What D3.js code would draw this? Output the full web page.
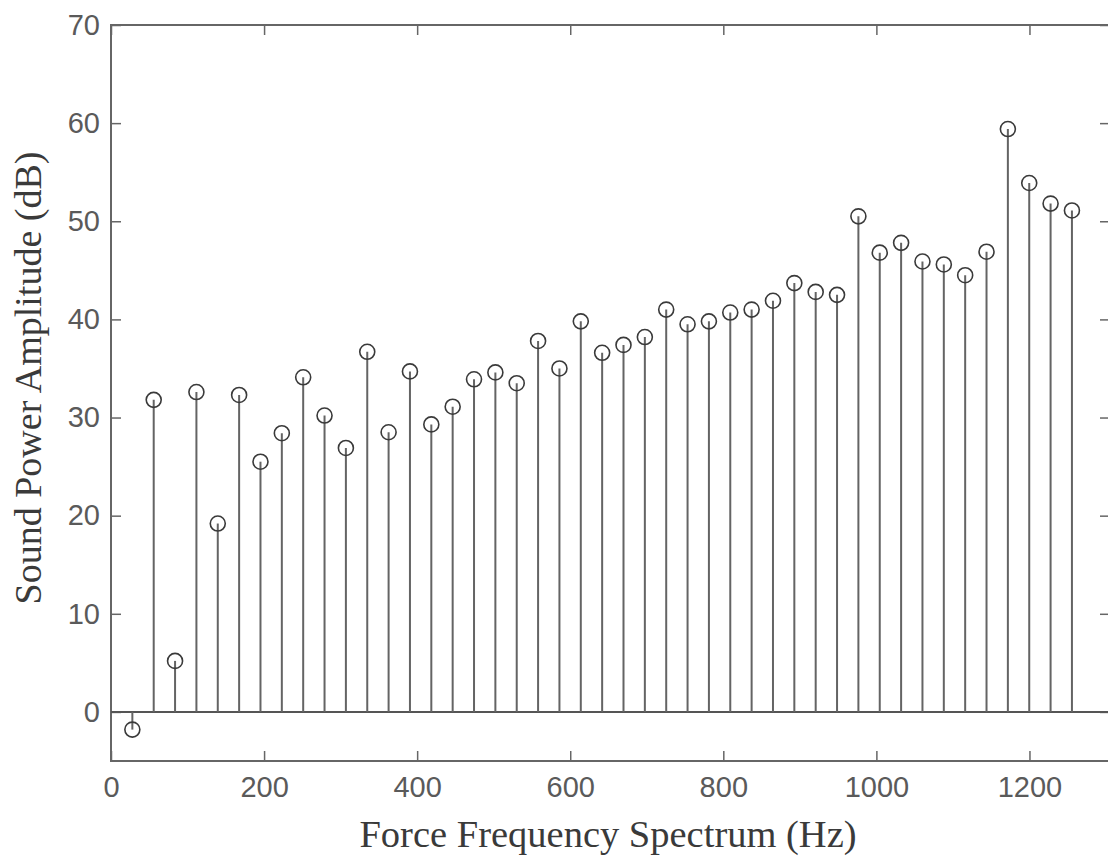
<!DOCTYPE html>
<html>
<head>
<meta charset="utf-8">
<script src="https://cdn.jsdelivr.net/npm/d3@7"></script>
<style>
  body { margin: 0; background: #fff; }
  svg { display: block; }
</style>
</head>
<body>
<svg id="chart"></svg>
<script>
// stem positions (Hz) and amplitudes (dB)
const freqs = [27.9, 55.8, 83.7, 111.6, 139.5, 167.4, 195.3, 223.2, 251.1, 279, 306.9, 334.8, 362.7, 390.6, 418.5,
               446.4, 474.3, 502.2, 530.1, 558, 585.9, 613.8, 641.7, 669.6, 697.5, 725.4, 753.3, 781.2, 809.1, 837,
               864.9, 892.8, 920.7, 948.6, 976.5, 1004.4, 1032.3, 1060.2, 1088.1, 1116, 1143.9, 1171.8, 1199.7, 1227.6, 1255.5];
const amps = [-1.8, 31.8, 5.2, 32.6, 19.2, 32.3, 25.5, 28.4, 34.1, 30.2, 26.9, 36.7, 28.5, 34.7, 29.3,
              31.1, 33.9, 34.6, 33.5, 37.8, 35.0, 39.8, 36.6, 37.4, 38.2, 41.0, 39.5, 39.8, 40.7, 41.0,
              41.9, 43.7, 42.8, 42.5, 50.5, 46.8, 47.8, 45.9, 45.6, 44.5, 46.9, 59.4, 53.9, 51.8, 51.1];
const xTicks = [0, 200, 400, 600, 800, 1000, 1200];
const yTicks = [0, 10, 20, 30, 40, 50, 60, 70];

const data = freqs.map((f, i) => ({ f: f, v: amps[i] }));

const W = 1108, H = 859;
// frame runs a little past the window on the right, like the cropped original
const plotL = 111, plotR = 1106, frameR = 1110, plotT = 25, plotB = 761;

const svg = d3.select("#chart").attr("width", W).attr("height", H);

const x = d3.scaleLinear().domain([0, 1300]).range([plotL, plotR]);
const y = d3.scaleLinear().domain([-5, 70]).range([plotB, plotT]);

const axisColor = "#666";
const labelFont = "'Liberation Sans', Arial, sans-serif";
const titleFont = "'Liberation Serif', 'Times New Roman', serif";

// box
svg.append("rect")
  .attr("x", plotL).attr("y", plotT)
  .attr("width", frameR - plotL).attr("height", plotB - plotT)
  .attr("fill", "none").attr("stroke", axisColor).attr("stroke-width", 2);

// ticks pointing in, on all four sides
const gBottom = svg.append("g").attr("transform", `translate(0,${plotB})`)
  .call(d3.axisBottom(x).tickValues(xTicks).tickFormat(d3.format("d"))
    .tickSizeInner(-10).tickSizeOuter(0).tickPadding(15));
const gLeft = svg.append("g").attr("transform", `translate(${plotL},0)`)
  .call(d3.axisLeft(y).tickValues(yTicks).tickFormat(d3.format("d"))
    .tickSizeInner(-10).tickSizeOuter(0).tickPadding(11));
const gTop = svg.append("g").attr("transform", `translate(0,${plotT})`)
  .call(d3.axisTop(x).tickValues(xTicks).tickSizeInner(-10).tickSizeOuter(0).tickFormat(""));
const gRight = svg.append("g").attr("transform", `translate(${frameR},0)`)
  .call(d3.axisRight(y).tickValues(yTicks).tickSizeInner(-10).tickSizeOuter(0).tickFormat(""));

[gBottom, gLeft, gTop, gRight].forEach(g => {
  g.select(".domain").remove();
  g.selectAll(".tick line").attr("stroke", axisColor).attr("stroke-width", 1.5);
  g.selectAll(".tick text")
    .attr("fill", "#5a5a5a")
    .style("font-family", labelFont)
    .style("font-size", "29px");
});

// zero line
svg.append("line")
  .attr("x1", plotL).attr("x2", frameR)
  .attr("y1", y(0)).attr("y2", y(0))
  .attr("stroke", "#555").attr("stroke-width", 2);

// stems
svg.append("g").selectAll("line")
  .data(data).join("line")
  .attr("x1", d => x(d.f)).attr("x2", d => x(d.f))
  .attr("y1", y(0)).attr("y2", d => y(d.v))
  .attr("stroke", "#646464").attr("stroke-width", 2);

// markers
svg.append("g").selectAll("circle")
  .data(data).join("circle")
  .attr("cx", d => x(d.f)).attr("cy", d => y(d.v))
  .attr("r", 7.5)
  .attr("fill", "none")
  .attr("stroke", "#3a3a3a").attr("stroke-width", 1.6);

// axis titles
svg.append("text")
  .attr("x", 608).attr("y", 847)
  .attr("text-anchor", "middle")
  .attr("fill", "#3a3a3a")
  .style("font-family", titleFont).style("font-size", "38.5px")
  .text("Force Frequency Spectrum (Hz)");

svg.append("text")
  .attr("transform", "translate(41,378) rotate(-90)")
  .attr("text-anchor", "middle")
  .attr("fill", "#3a3a3a")
  .style("font-family", titleFont).style("font-size", "38px")
  .text("Sound Power Amplitude (dB)");
</script>
</body>
</html>
